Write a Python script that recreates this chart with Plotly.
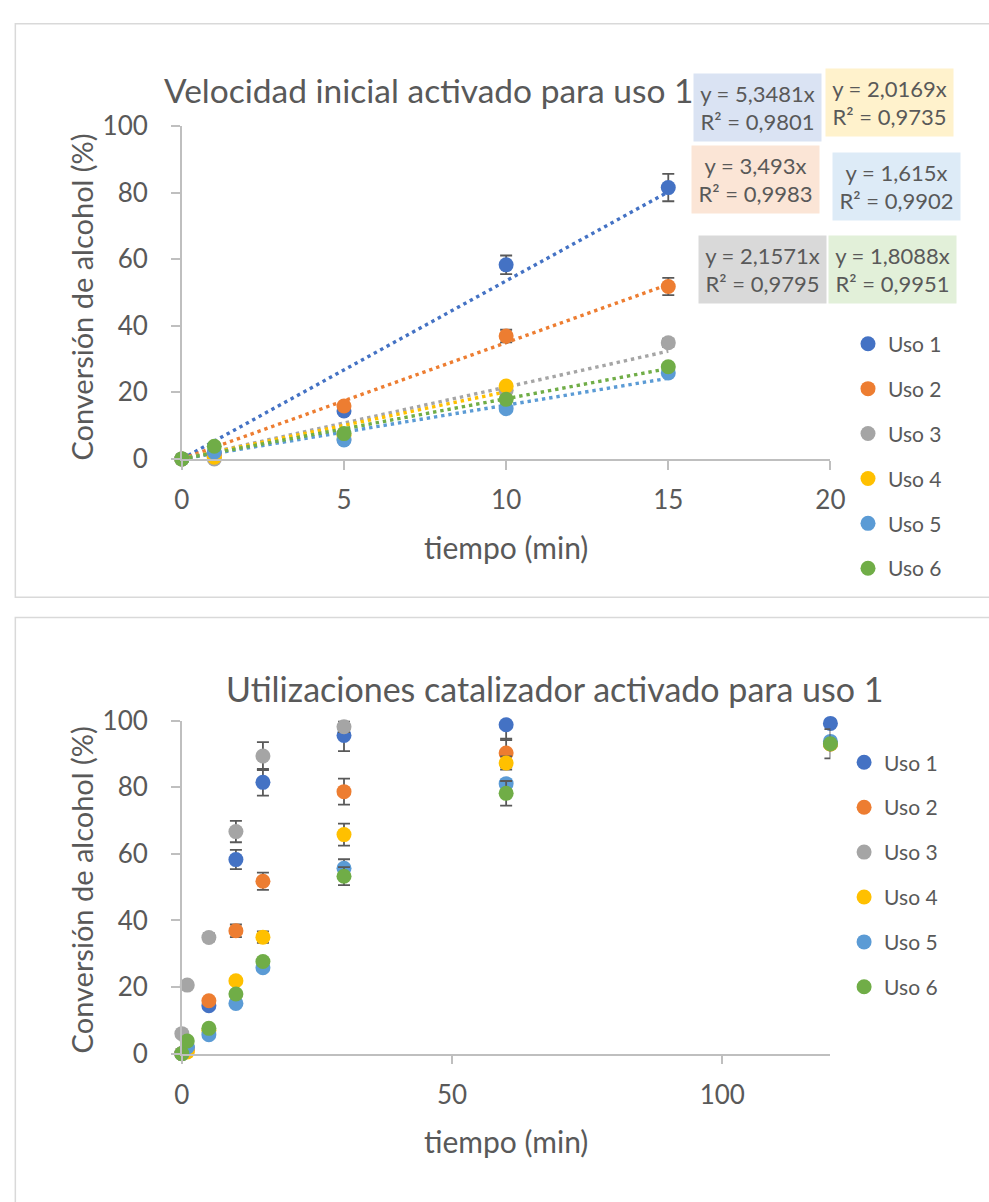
import plotly.graph_objects as go

# ---------------- data ----------------
series_names = ["Uso 1", "Uso 2", "Uso 3", "Uso 4", "Uso 5", "Uso 6"]
series_colors = ["#4472C4", "#ED7D31", "#A5A5A5", "#FFC000", "#5B9BD5", "#70AD47"]
box_colors = ["#DAE3F3", "#FBE5D6", "#D9D9D9", "#FFF2CC", "#DDEBF7", "#E2F0D9"]

# Initial rate (first 15 min)
t_ini = [0, 1, 5, 10, 15]
ini_uso1 = [0, 1.8, 14.4, 58.3, 81.5]
ini_uso2 = [0, 1.0, 15.9, 36.9, 51.8]
ini_uso3 = [0, 0.0, 6.0, 20.6, 34.9]
ini_uso4 = [0, 0.5, 7.0, 21.9]
ini_uso5 = [0, 2.0, 5.7, 15.1, 25.8]
ini_uso6 = [0, 3.8, 7.6, 17.9, 27.7]

ini_err1 = [None, None, None, 2.8, 4.1]
ini_err2 = [None, None, None, 1.9, 2.6]
ini_err3 = [None, None, None, None, 1.2]
ini_err4 = [None, None, None, None]
ini_err5 = [None, None, None, None, None]
ini_err6 = [None, None, None, None, None]

# Linear fits through the origin (slope, R²)
fit_slope = [5.3481, 3.493, 2.1571, 2.0169, 1.615, 1.8088]
fit_r2 = [0.9801, 0.9983, 0.9795, 0.9735, 0.9902, 0.9951]

# Full reaction profile
t_full = [0, 1, 5, 10, 15, 30, 60, 120]
full_uso1 = [0, 1.8, 14.4, 58.3, 81.5, 95.6, 98.8, 99.2]
full_uso2 = [0, 1.0, 15.9, 36.9, 51.8, 78.7, 90.3, 93.0]
full_uso3 = [6.0, 20.6, 34.9, 66.7, 89.4, 98.2, None, 93.0]
full_uso4 = [0, 0.5, 7.0, 21.9, 35.0, 65.8, 87.3, 93.0]
full_uso5 = [0, 2.0, 5.7, 15.1, 25.8, 55.7, 81.1, 93.8]
full_uso6 = [0, 3.8, 7.6, 17.9, 27.7, 53.3, 78.2, 93.1]

full_err1 = [None, None, None, 2.9, 4.0, 4.7, 4.6, None]
full_err2 = [None, None, None, 1.9, 2.6, 3.9, 4.3, None]
full_err3 = [None, None, 1.2, 3.2, 4.2, 1.6, None, None]
full_err4 = [None, None, None, None, 1.7, 3.3, 2.0, None]
full_err5 = [None, None, None, None, None, 2.7, None, None]
full_err6 = [None, None, None, None, None, 2.7, 3.7, 4.4]

ini_values = [ini_uso1, ini_uso2, ini_uso3, ini_uso4, ini_uso5, ini_uso6]
ini_errors = [ini_err1, ini_err2, ini_err3, ini_err4, ini_err5, ini_err6]
full_values = [full_uso1, full_uso2, full_uso3, full_uso4, full_uso5, full_uso6]
full_errors = [full_err1, full_err2, full_err3, full_err4, full_err5, full_err6]

title_top = "Velocidad inicial activado para uso 1"
title_bottom = "Utilizaciones catalizador activado para uso 1"
x_title = "tiempo (min)"
y_title = "Conversión de alcohol (%)"

# ---------------- layout helpers ----------------
W, H = 989, 1202
FONT = "Lato"
TXT = "#595959"
AXC = "#BFBFBF"


def px(x):
    return x / W


def py(y):
    return 1 - y / H


def fmt(v):
    return f"{v}".replace(".", ",")


fig = go.Figure()

# trendlines (drawn under the markers)
for i, vals in enumerate(ini_values):
    xs = t_ini[: len(vals)]
    x_end = max(xs)
    fig.add_trace(go.Scatter(
        x=[0, x_end], y=[0, fit_slope[i] * x_end],
        mode="lines", xaxis="x", yaxis="y",
        line=dict(color=series_colors[i], width=3.4, dash="3.4px,3.9px"),
        showlegend=False, hoverinfo="skip",
    ))

err_style = dict(type="data", color=TXT, thickness=1.8, width=6)

for i, vals in enumerate(ini_values):
    fig.add_trace(go.Scatter(
        x=t_ini[: len(vals)], y=vals, mode="markers", name=series_names[i],
        xaxis="x", yaxis="y", legend="legend",
        marker=dict(color=series_colors[i], size=15),
        error_y=dict(array=ini_errors[i], **err_style),
        cliponaxis=False, legendgroup="a" + str(i),
    ))

for i, vals in enumerate(full_values):
    fig.add_trace(go.Scatter(
        x=t_full, y=vals, mode="markers", name=series_names[i],
        xaxis="x2", yaxis="y2", legend="legend2",
        marker=dict(color=series_colors[i], size=15),
        error_y=dict(array=full_errors[i], **err_style),
        cliponaxis=False, legendgroup="b" + str(i),
    ))

axis_common = dict(
    showline=True, linecolor=AXC, linewidth=1.6,
    ticks="outside", ticklen=9, tickwidth=1.6, tickcolor=AXC,
    showgrid=False, zeroline=False,
    tickfont=dict(family=FONT, size=26, color=TXT),
)

x_dom = [px(178), px(842)]
fig.update_layout(
    width=W, height=H,
    margin=dict(l=0, r=0, t=0, b=0),
    paper_bgcolor="white", plot_bgcolor="white",
    font=dict(family=FONT, color=TXT),
    xaxis=dict(domain=x_dom, range=[0, 20], tickvals=[0, 5, 10, 15, 20],
               anchor="y", ticklabelstandoff=8, **axis_common),
    yaxis=dict(domain=[py(454), py(112)], range=[0, 100], dtick=20,
               anchor="x", ticklabelstandoff=18, **axis_common),
    xaxis2=dict(domain=x_dom, range=[0, 120], tickvals=[0, 50, 100],
                anchor="y2", ticklabelstandoff=8, **axis_common),
    yaxis2=dict(domain=[py(1065), py(723)], range=[0, 100], dtick=20,
                anchor="x2", ticklabelstandoff=18, **axis_common),
    legend=dict(x=px(860), y=py(315), xanchor="left", yanchor="top",
                font=dict(family=FONT, size=21, color=TXT),
                tracegroupgap=14.6, bgcolor="rgba(0,0,0,0)"),
    legend2=dict(x=px(856), y=py(745), xanchor="left", yanchor="top",
                 font=dict(family=FONT, size=21, color=TXT),
                 tracegroupgap=14.6, bgcolor="rgba(0,0,0,0)"),
    showlegend=True,
)

# chart frames
fig.add_shape(type="rect", xref="paper", yref="paper",
              x0=px(7.5), x1=1.02, y0=py(596), y1=py(7),
              line=dict(color="#D9D9D9", width=1.5), layer="below")
fig.add_shape(type="rect", xref="paper", yref="paper",
              x0=px(7.5), x1=1.02, y0=-0.02, y1=py(617),
              line=dict(color="#D9D9D9", width=1.5), layer="below")

ann = []

# equation boxes for the fits
box_centers = [(767.5, 92.5), (765.5, 166.5), (772.5, 259.5),
               (902.5, 87.5), (909.5, 174.5), (905.5, 259.5)]
for i, (cx, cy) in enumerate(box_centers):
    ann.append(dict(
        text=f"y = {fmt(fit_slope[i])}x<br>R² = {fmt(fit_r2[i])}",
        x=px(cx), y=py(cy), font=dict(size=22),
        bgcolor=box_colors[i], width=127, height=67, borderpad=0,
    ))

# chart and axis titles
ann.append(dict(text=title_top, x=px(431), y=py(75), font=dict(size=33.5)))
ann.append(dict(text=title_bottom, x=px(559), y=py(690), font=dict(size=34)))
ann.append(dict(text=x_title, x=px(510), y=py(545), font=dict(size=30)))
ann.append(dict(text=x_title, x=px(510), y=py(1155), font=dict(size=30)))
ann.append(dict(text=y_title, x=px(75), y=py(288), font=dict(size=29), textangle=-90))
ann.append(dict(text=y_title, x=px(75), y=py(897), font=dict(size=29), textangle=-90))

for a in ann:
    a.setdefault("xref", "paper")
    a.setdefault("yref", "paper")
    a.setdefault("showarrow", False)
    a.setdefault("xanchor", "center")
    a.setdefault("yanchor", "middle")
    a["font"] = dict(family=FONT, color=TXT, **a["font"])
    fig.add_annotation(**a)

# page without body margin so the figure fills the window exactly
page_css = "document.body.style.margin='0';document.body.style.overflow='hidden';"
fig.write_html("out.html", post_script=page_css)
